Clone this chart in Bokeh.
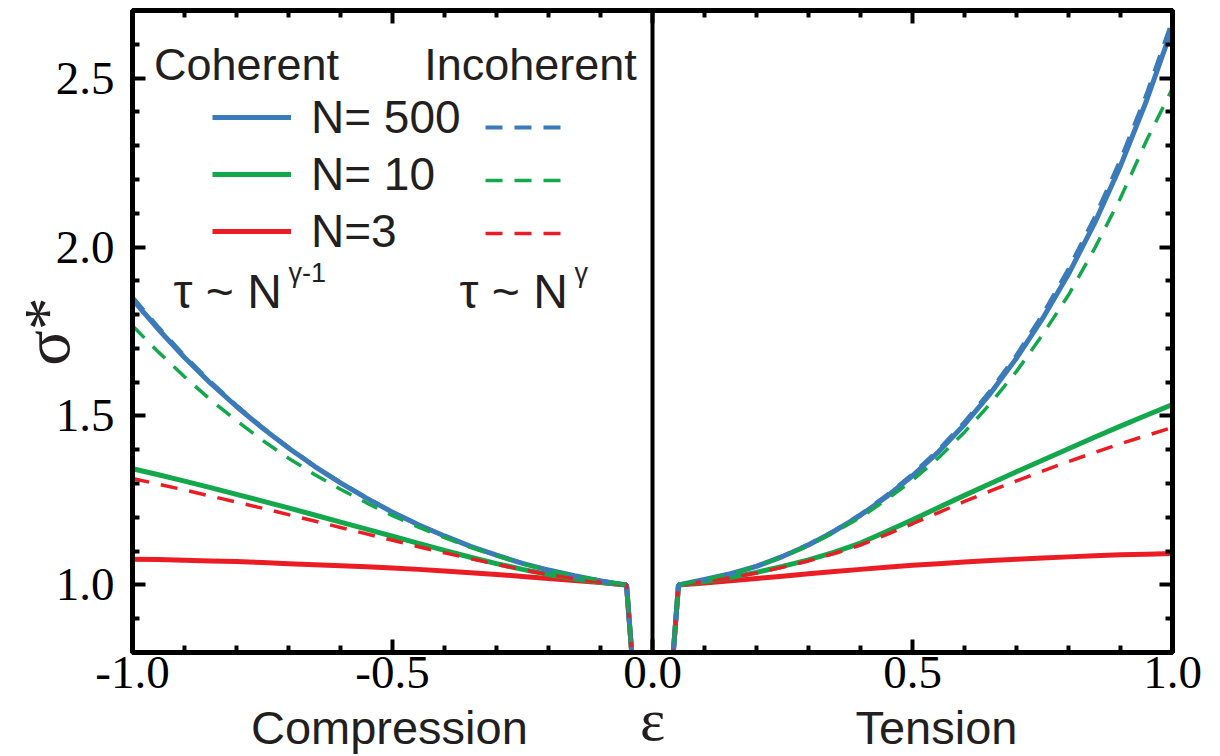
import math
from bokeh.plotting import figure
from bokeh.models import (Range1d, FixedTicker, LinearAxis, Span, Label,
                          Legend, LegendItem, ColumnDataSource)
from bokeh.embed import file_html
from bokeh.resources import INLINE

# ---------------- data ----------------
eps = [-1.0, -0.95, -0.9, -0.85, -0.8, -0.75, -0.7, -0.65, -0.6, -0.55,
       -0.5, -0.45, -0.4, -0.35, -0.3, -0.25, -0.2, -0.15, -0.1, -0.05,
       0.0,
       0.05, 0.1, 0.15, 0.2, 0.25, 0.3, 0.35, 0.4, 0.45, 0.5,
       0.55, 0.6, 0.65, 0.7, 0.75, 0.8, 0.85, 0.9, 0.95, 1.0]

coherent_500 = [1.845, 1.756, 1.673, 1.597, 1.528, 1.464, 1.405, 1.351, 1.302, 1.257,
                1.215, 1.178, 1.145, 1.114, 1.088, 1.064, 1.044, 1.027, 1.012, 1.0,
                0.0,
                1.0, 1.016, 1.033, 1.055, 1.084, 1.118, 1.159, 1.206, 1.261, 1.323,
                1.394, 1.475, 1.567, 1.671, 1.788, 1.920, 2.070, 2.240, 2.433, 2.651]
incoherent_500 = [1.852, 1.762, 1.678, 1.601, 1.531, 1.466, 1.407, 1.352, 1.303, 1.258,
                  1.216, 1.178, 1.145, 1.114, 1.088, 1.064, 1.044, 1.027, 1.013, 1.0,
                  0.0,
                  1.0, 1.016, 1.033, 1.056, 1.085, 1.12, 1.161, 1.209, 1.265, 1.328,
                  1.40, 1.482, 1.575, 1.68, 1.80, 1.935, 2.087, 2.258, 2.452, 2.672]
coherent_10 = [1.344, 1.326, 1.307, 1.288, 1.268, 1.248, 1.228, 1.207, 1.186, 1.165,
               1.144, 1.123, 1.102, 1.082, 1.063, 1.046, 1.031, 1.018, 1.008, 1.0,
               0.0,
               1.0, 1.01, 1.022, 1.037, 1.055, 1.074, 1.097, 1.124, 1.158, 1.193,
               1.229, 1.265, 1.30, 1.335, 1.369, 1.403, 1.437, 1.47, 1.502, 1.534]
incoherent_10 = [1.767, 1.689, 1.616, 1.548, 1.486, 1.428, 1.375, 1.327, 1.283, 1.243,
                 1.205, 1.171, 1.14, 1.111, 1.086, 1.063, 1.043, 1.027, 1.014, 1.0,
                 0.0,
                 1.0, 1.016, 1.033, 1.055, 1.083, 1.116, 1.156, 1.2, 1.252, 1.31,
                 1.376, 1.452, 1.537, 1.632, 1.74, 1.858, 1.995, 2.145, 2.315, 2.47]
coherent_3 = [1.076, 1.075, 1.073, 1.071, 1.069, 1.066, 1.063, 1.06, 1.057, 1.054,
              1.05, 1.046, 1.041, 1.036, 1.031, 1.025, 1.019, 1.013, 1.007, 1.0,
              0.0,
              1.0, 1.006, 1.012, 1.019, 1.026, 1.033, 1.04, 1.046, 1.052, 1.058,
              1.063, 1.068, 1.072, 1.076, 1.08, 1.083, 1.086, 1.089, 1.091, 1.093]
incoherent_3 = [1.315, 1.298, 1.281, 1.263, 1.245, 1.227, 1.208, 1.189, 1.17, 1.151,
                1.132, 1.113, 1.095, 1.078, 1.061, 1.045, 1.031, 1.018, 1.008, 1.0,
                0.0,
                1.0, 1.01, 1.021, 1.035, 1.052, 1.071, 1.093, 1.118, 1.149, 1.181,
                1.214, 1.247, 1.278, 1.308, 1.337, 1.365, 1.392, 1.418, 1.442, 1.466]

series_labels = ["N= 500", "N= 10", "N=3"]
x_ticks = [-1.0, -0.5, 0.0, 0.5, 1.0]
x_tick_labels = ["-1.0", "-0.5", "0.0", "0.5", "1.0"]
x_minor = [-0.9, -0.8, -0.7, -0.6, -0.4, -0.3, -0.2, -0.1,
           0.1, 0.2, 0.3, 0.4, 0.6, 0.7, 0.8, 0.9]
y_ticks = [1.0, 1.5, 2.0, 2.5]
y_tick_labels = ["1.0", "1.5", "2.0", "2.5"]
y_minor = [0.9, 1.1, 1.2, 1.3, 1.4, 1.6, 1.7, 1.8, 1.9, 2.1, 2.2, 2.3, 2.4, 2.6]
# side captions under the axis, centred under these strain values
side_caption_at = [-0.506, 0.546]
side_captions = ["Compression", "Tension"]

BLUE = "#3b7bb9"
GREEN = "#12a84b"
RED = "#ec1c24"
TXT = "#231f20"
SANS = "Liberation Sans"
SERIF = "Liberation Serif"

# ---------------- figure ----------------
FL, FB = 132, 652          # frame left / bottom in page pixels
p = figure(width=1220, height=756, x_range=Range1d(-1, 1), y_range=Range1d(0.8, 2.7),
           output_backend="svg", toolbar_location=None,
           min_border_left=132, min_border_right=48, min_border_top=10,
           min_border_bottom=104)
p.xgrid.visible = False
p.ygrid.visible = False
p.outline_line_color = "black"
p.outline_line_width = 5
p.background_fill_color = "white"
p.border_fill_color = "white"


def style_axis(ax, ticks, minor, labels, show):
    ax.ticker = FixedTicker(ticks=ticks, minor_ticks=minor)
    ax.axis_line_color = "black"
    ax.axis_line_width = 5
    ax.major_tick_in = 13
    ax.major_tick_out = 0
    ax.major_tick_line_width = 4
    ax.minor_tick_in = 7
    ax.minor_tick_out = 0
    ax.minor_tick_line_width = 4
    if show:
        ax.major_label_overrides = {t: l for t, l in zip(ticks, labels)}
        ax.major_label_text_font = SERIF
        ax.major_label_text_font_size = "47px"
        ax.major_label_text_color = "black"
    else:
        ax.major_label_overrides = {t: "" for t in ticks}
        ax.major_label_text_font_size = "0px"
        ax.major_label_standoff = 0


xa = p.xaxis[0]
ya = p.yaxis[0]
style_axis(xa, x_ticks, x_minor, x_tick_labels, True)
xa.major_label_standoff = 4
style_axis(ya, y_ticks, y_minor, y_tick_labels, True)
ya.major_label_standoff = 18
ya.axis_label = "σ*"
ya.axis_label_text_font = SERIF
ya.axis_label_text_font_size = "66px"
ya.axis_label_text_font_style = "normal"
ya.axis_label_text_color = TXT
ya.axis_label_standoff = -30

# second row under the axis: "Compression"  ε  "Tension"
cap = LinearAxis(ticker=FixedTicker(ticks=side_caption_at, minor_ticks=[]))
cap.major_label_overrides = {t: l for t, l in zip(side_caption_at, side_captions)}
cap.axis_line_color = None
cap.major_tick_line_color = None
cap.minor_tick_line_color = None
cap.major_tick_in = 0
cap.major_tick_out = 0
cap.minor_tick_in = 0
cap.minor_tick_out = 0
cap.major_label_standoff = 10
cap.major_label_text_font = SANS
cap.major_label_text_font_size = "47px"
cap.major_label_text_color = TXT
cap.axis_label = "ε"
cap.axis_label_text_font = SERIF
cap.axis_label_text_font_size = "60px"
cap.axis_label_text_font_style = "normal"
cap.axis_label_text_color = TXT
cap.axis_label_standoff = -70
p.add_layout(cap, "below")

top = LinearAxis()
style_axis(top, x_ticks, x_minor, x_tick_labels, False)
p.add_layout(top, "above")
right = LinearAxis()
style_axis(right, y_ticks, y_minor, y_tick_labels, False)
p.add_layout(right, "right")

p.add_layout(Span(location=0, dimension="height", line_color="black", line_width=4))

src = ColumnDataSource(dict(eps=eps, c500=coherent_500, i500=incoherent_500,
                            c10=coherent_10, i10=incoherent_10,
                            c3=coherent_3, i3=incoherent_3))

DASH = "17 12"
r_c3 = p.line("eps", "c3", source=src, color=RED, line_width=5)
r_c10 = p.line("eps", "c10", source=src, color=GREEN, line_width=5)
r_c500 = p.line("eps", "c500", source=src, color=BLUE, line_width=5)
r_i500 = p.line("eps", "i500", source=src, color=BLUE, line_width=4, line_dash=DASH)
r_i3 = p.line("eps", "i3", source=src, color=RED, line_width=3.5, line_dash=DASH)
r_i10 = p.line("eps", "i10", source=src, color=GREEN, line_width=3.5, line_dash=DASH)

# ---------------- legend ----------------
leg_common = dict(orientation="vertical", glyph_height=50, label_height=50, spacing=3,
                  padding=0, margin=0, border_line_alpha=0, background_fill_alpha=0,
                  label_text_font=SANS, label_text_font_size="46px",
                  label_text_color=TXT)
legA = Legend(items=[LegendItem(label=series_labels[0], renderers=[r_c500]),
                     LegendItem(label=series_labels[1], renderers=[r_c10]),
                     LegendItem(label=series_labels[2], renderers=[r_c3])],
              location=(212 - FL, FB - 258), glyph_width=79, label_standoff=20, **leg_common)
legB = Legend(items=[LegendItem(label=" ", renderers=[r_i500]),
                     LegendItem(label=" ", renderers=[r_i10]),
                     LegendItem(label=" ", renderers=[r_i3])],
              location=(485 - FL, FB - 258), glyph_width=78, label_standoff=0, **leg_common)
p.add_layout(legA)
p.add_layout(legB)


def lab(text, X, Y, size, font=SANS, align="left"):
    p.add_layout(Label(x=X - FL, y=FB - Y, x_units="screen", y_units="screen",
                       text=text, text_font=font, text_font_size=size,
                       text_align=align, text_baseline="middle", text_color=TXT))


lab("Coherent", 246, 64, "45px", align="center")
lab("Incoherent", 530, 64, "45px", align="center")
lab("τ ~ N", 173, 291, "48px")
lab("γ-1", 288, 272, "27px")
lab("τ ~ N", 459, 291, "48px")
lab("γ", 574, 272, "27px")

open("out.html", "w").write(file_html(p, INLINE))
